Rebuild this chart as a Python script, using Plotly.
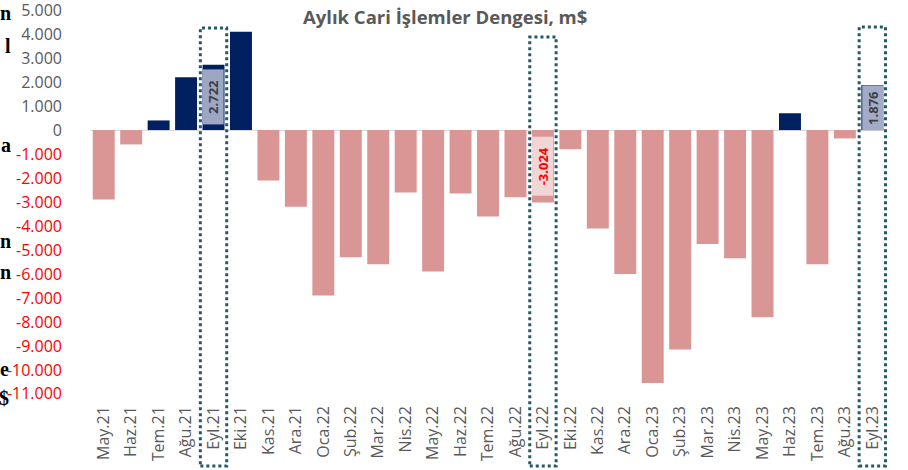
import plotly.graph_objects as go

months = ["May.21", "Haz.21", "Tem.21", "Ağu.21", "Eyl.21", "Eki.21", "Kas.21", "Ara.21",
          "Oca.22", "Şub.22", "Mar.22", "Nis.22", "May.22", "Haz.22", "Tem.22", "Ağu.22",
          "Eyl.22", "Eki.22", "Kas.22", "Ara.22", "Oca.23", "Şub.23", "Mar.23", "Nis.23",
          "May.23", "Haz.23", "Tem.23", "Ağu.23", "Eyl.23"]
balance = [-2900, -600, 400, 2200, 2722, 4100, -2100, -3200,
           -6900, -5300, -5600, -2600, -5900, -2650, -3600, -2800,
           -3024, -800, -4100, -6000, -10550, -9150, -4750, -5350,
           -7800, 700, -5600, -350, 1876]
highlight = ["Eyl.21", "Eyl.22", "Eyl.23"]
y_ticks = list(range(5000, -12000, -1000))
left_glyphs = ["n", "l", "a", "n", "n", "e", "$"]
left_glyph_px = [13, 46, 145, 241, 272, 369, 398]
left_glyph_right = [12, 12, 12, 12, 12, 10, 10]

POS = "#002060"
NEG = "#da9694"
GREY = "#595959"
FONT = "Open Sans"

def fmt(v):
    s = f"{abs(v):,}".replace(",", ".")
    return ("-" if v < 0 else "") + s

tick_text = []
for v in y_ticks:
    col = "#ff0000" if v < 0 else GREY
    tick_text.append(f'<span style="color:{col}">{fmt(v)}</span>')

fig = go.Figure()
fig.add_trace(go.Bar(
    x=months, y=balance,
    marker=dict(color=[POS if v >= 0 else NEG for v in balance], line=dict(width=0)),
    hoverinfo="x+y",
))

W, H = 908, 470
ml, mr, mt, mb = 90, 21, 10, 76
ph = H - mt - mb

def py_to_paper(py):
    return (H - mb - py) / ph

# highlight boxes (dotted)
box_tops = {"Eyl.21": 28, "Eyl.22": 37, "Eyl.23": 27}
for m in highlight:
    i = months.index(m)
    fig.add_shape(type="rect", xref="x", yref="paper",
                  x0=i - 0.48, x1=i + 0.48,
                  y0=py_to_paper(466), y1=py_to_paper(box_tops[m]),
                  line=dict(color="#215968", width=3, dash="dot"),
                  fillcolor="rgba(0,0,0,0)", layer="above")

# data labels for highlighted months
label_style = {
    "Eyl.21": dict(bg="#9da7c4", fc="#404040", w=52),
    "Eyl.22": dict(bg="#f2d6d6", fc="#ff0000", w=56),
    "Eyl.23": dict(bg="#a3abc8", fc="#404040", w=42),
}
for m in highlight:
    i = months.index(m)
    v = balance[i]
    st = label_style[m]
    fig.add_annotation(x=m, y=v / 2, xref="x", yref="y", text=f"<b>{fmt(v)}</b>",
                       showarrow=False, textangle=-90, bgcolor=st["bg"],
                       width=st["w"], height=18, borderpad=1,
                       font=dict(family=FONT, size=13, color=st["fc"]))

# title
fig.add_annotation(text="<b>Aylık Cari İşlemler Dengesi, m$</b>", xref="paper", yref="paper",
                   x=(445 - ml) / (W - ml - mr), y=py_to_paper(16), showarrow=False,
                   xanchor="center", yanchor="middle",
                   font=dict(family=FONT, size=18.5, color=GREY))

# glyphs at the left edge (fragments of neighbouring text)
for g, p, r in zip(left_glyphs, left_glyph_px, left_glyph_right):
    fig.add_annotation(text=f"<b>{g}</b>", xref="paper", yref="paper", x=0, xshift=r - ml,
                       y=py_to_paper(p), showarrow=False, xanchor="right", yanchor="middle",
                       borderpad=0,
                       font=dict(family="Liberation Serif", size=20, color="#000000"))

fig.update_layout(
    width=W, height=H,
    margin=dict(l=ml, r=mr, t=mt, b=mb, autoexpand=False),
    paper_bgcolor="white", plot_bgcolor="white",
    showlegend=False, bargap=0.2,
    font=dict(family=FONT, color=GREY),
)
fig.update_xaxes(showgrid=False, showline=False, zeroline=False, tickangle=-90,
                 tickfont=dict(family=FONT, size=16, color=GREY), ticks="",
                 ticklabelstandoff=8, automargin=False)
fig.update_yaxes(range=[-11005, 5005], showgrid=False, showline=False,
                 zeroline=True, zerolinecolor="#d9d9d9", zerolinewidth=1,
                 tickvals=y_ticks, ticktext=tick_text, ticks="",
                 tickfont=dict(family=FONT, size=16, color=GREY),
                 ticklabelstandoff=27, automargin=False, ticklabeloverflow="allow")

fig.write_html("out.html", config={"displayModeBar": False},
               post_script="document.body.style.margin='0px';document.body.style.overflow='hidden';")
